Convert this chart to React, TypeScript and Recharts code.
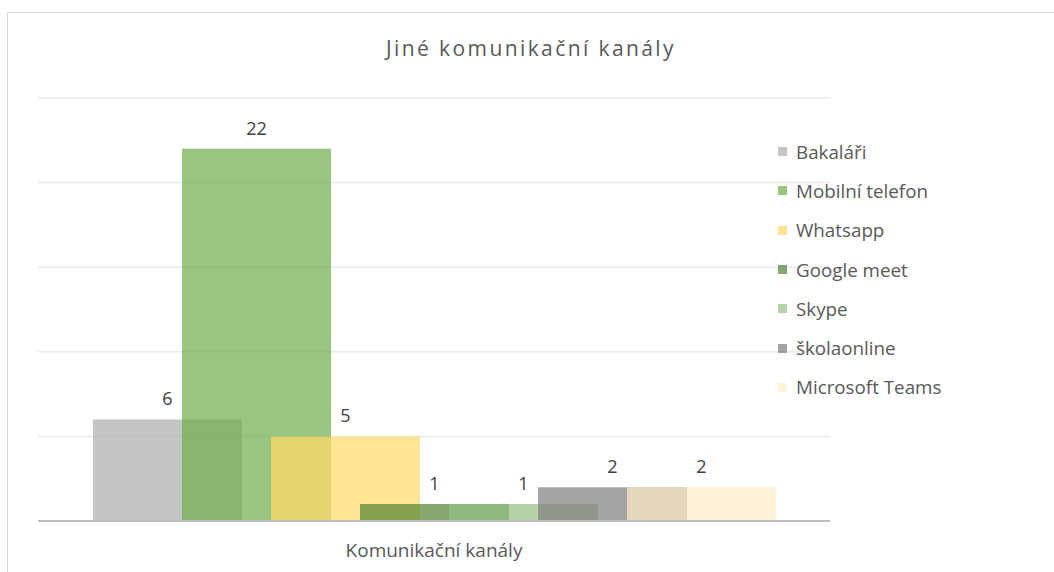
import React from "react";
import { BarChart, Bar, XAxis, YAxis, CartesianGrid, LabelList } from "recharts";

const categories = ["Komunikační kanály"];
const seriesNames = ["Bakaláři", "Mobilní telefon", "Whatsapp", "Google meet", "Skype", "školaonline", "Microsoft Teams"];
const seriesValues = [6, 22, 5, 1, 1, 2, 2];
const seriesColors = ["#AEADAC", "#70AD47", "#FFD966", "#548235", "#95C083", "#7E7E7E", "#FFECC9"];
const yTicks = [0, 5, 10, 15, 20, 25];
const title = "Jiné komunikační kanály";

const data = categories.map((c) => {
  const row: any = { name: c };
  seriesNames.forEach((s, i) => (row["s" + i] = seriesValues[i]));
  return row;
});

const FONT = "'Open Sans', sans-serif";

const XTick = (props: any) => {
  const { x, y, payload } = props;
  return (
    <text x={x} y={y + 28} textAnchor="middle" fontFamily={FONT} fontSize={19} fill="#595959">
      {payload.value}
    </text>
  );
};

export default function App() {
  return (
    <div style={{ position: "absolute", left: 0, top: 0, width: 1054, height: 572, overflow: "hidden", background: "#fff" }}>
      <div
        style={{
          position: "absolute",
          left: 7,
          top: 12,
          width: 1200,
          height: 700,
          border: "1px solid #D9D9D9",
        }}
      />
      <div
        style={{
          position: "absolute",
          left: 0,
          width: 1062,
          top: 34,
          textAlign: "center",
          fontFamily: FONT,
          fontSize: 21,
          letterSpacing: 2.4,
          color: "#595959",
        }}
      >
        {title}
      </div>
      <div style={{ position: "absolute", left: 0, top: 0 }}>
        <BarChart
          width={1054}
          height={572}
          data={data}
          margin={{ top: 98, right: 224, bottom: 21, left: 38 }}
          barSize={149}
          barGap={-60}
        >
          <CartesianGrid horizontal vertical={false} stroke="#EBEBEB" strokeWidth={1.5} />
          <XAxis
            dataKey="name"
            height={30}
            tickLine={false}
            axisLine={{ stroke: "#BFBFBF", strokeWidth: 2 }}
            tick={<XTick />}
            interval={0}
          />
          <YAxis hide width={0} domain={[0, 25]} ticks={yTicks} />
          {seriesNames.map((s, i) => (
            <Bar
              key={s}
              dataKey={"s" + i}
              name={s}
              fill={seriesColors[i]}
              fillOpacity={0.7}
              isAnimationActive={false}
            >
              <LabelList
                dataKey={"s" + i}
                position="top"
                offset={14}
                fill="#404040"
                fontSize={18}
                fontFamily={FONT}
              />
            </Bar>
          ))}
        </BarChart>
      </div>
      <div
        style={{
          position: "absolute",
          left: 778,
          top: 132,
          fontFamily: FONT,
          fontSize: 18.8,
          color: "#595959",
        }}
      >
        {seriesNames.map((s, i) => (
          <div key={s} style={{ display: "flex", alignItems: "center", height: 39.3 }}>
            <div
              style={{
                width: 9,
                height: 9,
                background: seriesColors[i],
                opacity: 0.7,
                marginRight: 9,
              }}
            />
            <span>{s}</span>
          </div>
        ))}
      </div>
    </div>
  );
}
